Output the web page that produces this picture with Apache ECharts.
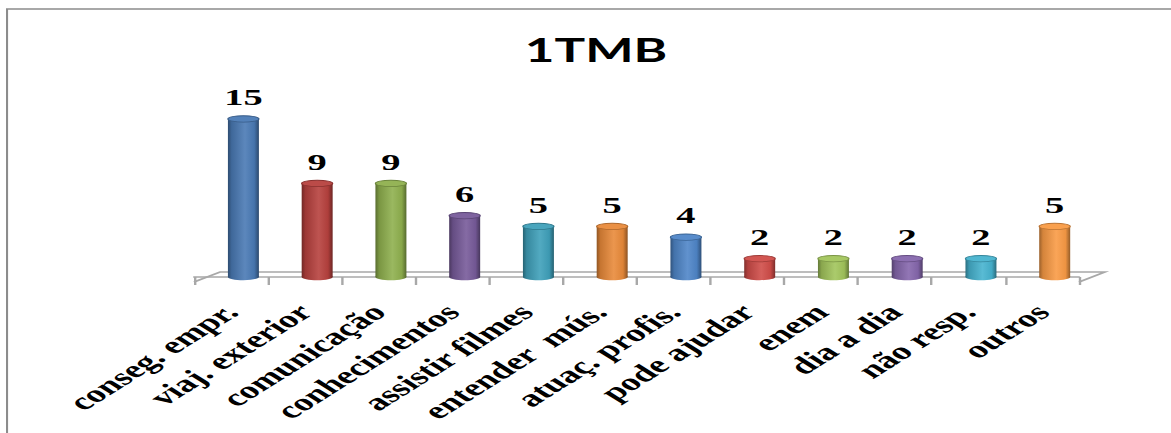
<!DOCTYPE html>
<html>
<head>
<meta charset="utf-8">
<title>1TMB</title>
<script src="https://cdn.jsdelivr.net/npm/echarts@6/dist/echarts.min.js"></script>
<style>
  html, body { margin: 0; padding: 0; background: #ffffff; overflow: hidden; }
  #wrap { width: 1171px; height: 433px; overflow: hidden; position: relative; }
  /* the chart is laid out narrow and stretched sideways, like a widened slide chart */
  #chart { width: 732px; height: 433px; transform: scaleX(1.6); transform-origin: 0 0; }
</style>
</head>
<body>
<div id="wrap"><div id="chart"></div></div>
<script>
// Chart data
const chartTitle = '1TMB';
const categories = [
  'conseg. empr.', 'viaj. exterior', 'comunicação', 'conhecimentos',
  'assistir filmes', 'entender  mús.', 'atuaç. profis.', 'pode ajudar',
  'enem', 'dia a dia', 'não resp.', 'outros'
];
const counts = [15, 9, 9, 6, 5, 5, 4, 2, 2, 2, 2, 5];

// Office-style palette, repeated with brighter tones on the second pass
const palette = ['#4a7ab5', '#b7413e', '#8fb04e', '#775b9a', '#3fa0ba', '#e98a3a'];
const palette2 = ['#4f86c8', '#d04d49', '#a2c55c', '#8667ad', '#47b3cf', '#f99b45'];

function shade(hex, f) {
  const n = parseInt(hex.slice(1), 16);
  let r = (n >> 16) & 255, g = (n >> 8) & 255, b = n & 255;
  if (f < 1) { r *= f; g *= f; b *= f; }
  else { r += (255 - r) * (f - 1); g += (255 - g) * (f - 1); b += (255 - b) * (f - 1); }
  return 'rgb(' + Math.round(r) + ',' + Math.round(g) + ',' + Math.round(b) + ')';
}

function barColor(i) {
  return i < 6 ? palette[i % 6] : palette2[i % 6];
}

const labelFont = 'bold 24px "Liberation Serif", "Times New Roman", serif';
const floorColor = '#a8a8a8';
const axisOffset = 5;     // front edge of the floor sits below the bar bases
const depthX = 16.25;     // floor depth, drawn as an oblique offset
const depthY = 10;

const chart = echarts.init(document.getElementById('chart'), null, { renderer: 'svg' });

chart.setOption({
  backgroundColor: '#ffffff',
  animation: false,
  graphic: [
    {
      type: 'rect',
      silent: true,
      shape: { x: 4.4, y: 9, width: 900, height: 600 },
      style: { fill: 'none', stroke: '#8c8c8c', lineWidth: 1.3 }
    },
    {
      type: 'text',
      silent: true,
      x: 372.5,
      y: 34,
      style: {
        text: chartTitle,
        align: 'center',
        verticalAlign: 'top',
        font: 'bold 32px Lato, "Open Sans", sans-serif',
        fill: '#000000'
      }
    }
  ],
  grid: {
    left: 121.25, right: 57.6, top: 105, bottom: 156,
    containLabel: false,
    outerBoundsMode: 'none'
  },
  xAxis: {
    type: 'category',
    data: categories,
    offset: axisOffset,
    boundaryGap: true,
    axisLine: { show: true, lineStyle: { color: floorColor, width: 1.5 } },
    axisTick: { show: true, length: 8, lineStyle: { color: floorColor, width: 1.5 } },
    axisLabel: {
      interval: 0,
      rotate: 45,
      margin: 26,
      color: '#000000',
      fontFamily: '"Liberation Serif", "Times New Roman", serif',
      fontWeight: 'bold',
      fontSize: 24
    },
    splitLine: { show: false }
  },
  yAxis: { type: 'value', min: 0, max: 16, show: false, splitLine: { show: false } },
  series: [
    {
      // back and side edges of the floor
      type: 'custom',
      silent: true,
      z: 1,
      data: [[0, 0]],
      renderItem: function (params, api) {
        const cs = params.coordSys;
        const fy = cs.y + cs.height + axisOffset;
        return {
          type: 'polyline',
          shape: {
            points: [
              [cs.x, fy],
              [cs.x + depthX, fy - depthY],
              [cs.x + cs.width + depthX, fy - depthY],
              [cs.x + cs.width, fy]
            ]
          },
          style: { stroke: floorColor, lineWidth: 1.5, fill: 'none' }
        };
      }
    },
    {
      // cylinders with their value labels
      type: 'custom',
      z: 3,
      data: counts.map((v, i) => [i, v]),
      encode: { x: 0, y: 1 },
      renderItem: function (params, api) {
        const idx = api.value(0);
        const v = api.value(1);
        const top = api.coord([idx, v]);
        const base = api.coord([idx, 0]);
        const band = api.size([1, 0])[0];
        const w = band * 0.42;
        const cx = top[0] + band * 0.17;
        const rx = w / 2;
        const ry = 3.2;
        const c = barColor(idx);
        const bodyFill = {
          type: 'linear', x: 0, y: 0, x2: 1, y2: 0,
          colorStops: [
            { offset: 0, color: shade(c, 0.62) },
            { offset: 0.12, color: shade(c, 0.85) },
            { offset: 0.55, color: shade(c, 1.1) },
            { offset: 0.85, color: shade(c, 0.95) },
            { offset: 1, color: shade(c, 0.6) }
          ]
        };
        const topY = top[1] + ry;
        return {
          type: 'group',
          children: [
            {
              type: 'ellipse',
              shape: { cx: cx, cy: base[1], rx: rx, ry: ry },
              style: { fill: bodyFill }
            },
            {
              type: 'rect',
              shape: { x: cx - rx, y: topY, width: w, height: base[1] - topY },
              style: { fill: bodyFill }
            },
            {
              type: 'ellipse',
              shape: { cx: cx, cy: topY, rx: rx, ry: ry },
              style: { fill: shade(c, 1.05), stroke: shade(c, 0.75), lineWidth: 0.8 }
            },
            {
              type: 'text',
              x: cx,
              y: top[1] - 7,
              style: {
                text: String(v),
                align: 'center',
                verticalAlign: 'bottom',
                font: labelFont,
                fill: '#000000'
              }
            }
          ]
        };
      }
    }
  ]
});
</script>
</body>
</html>
